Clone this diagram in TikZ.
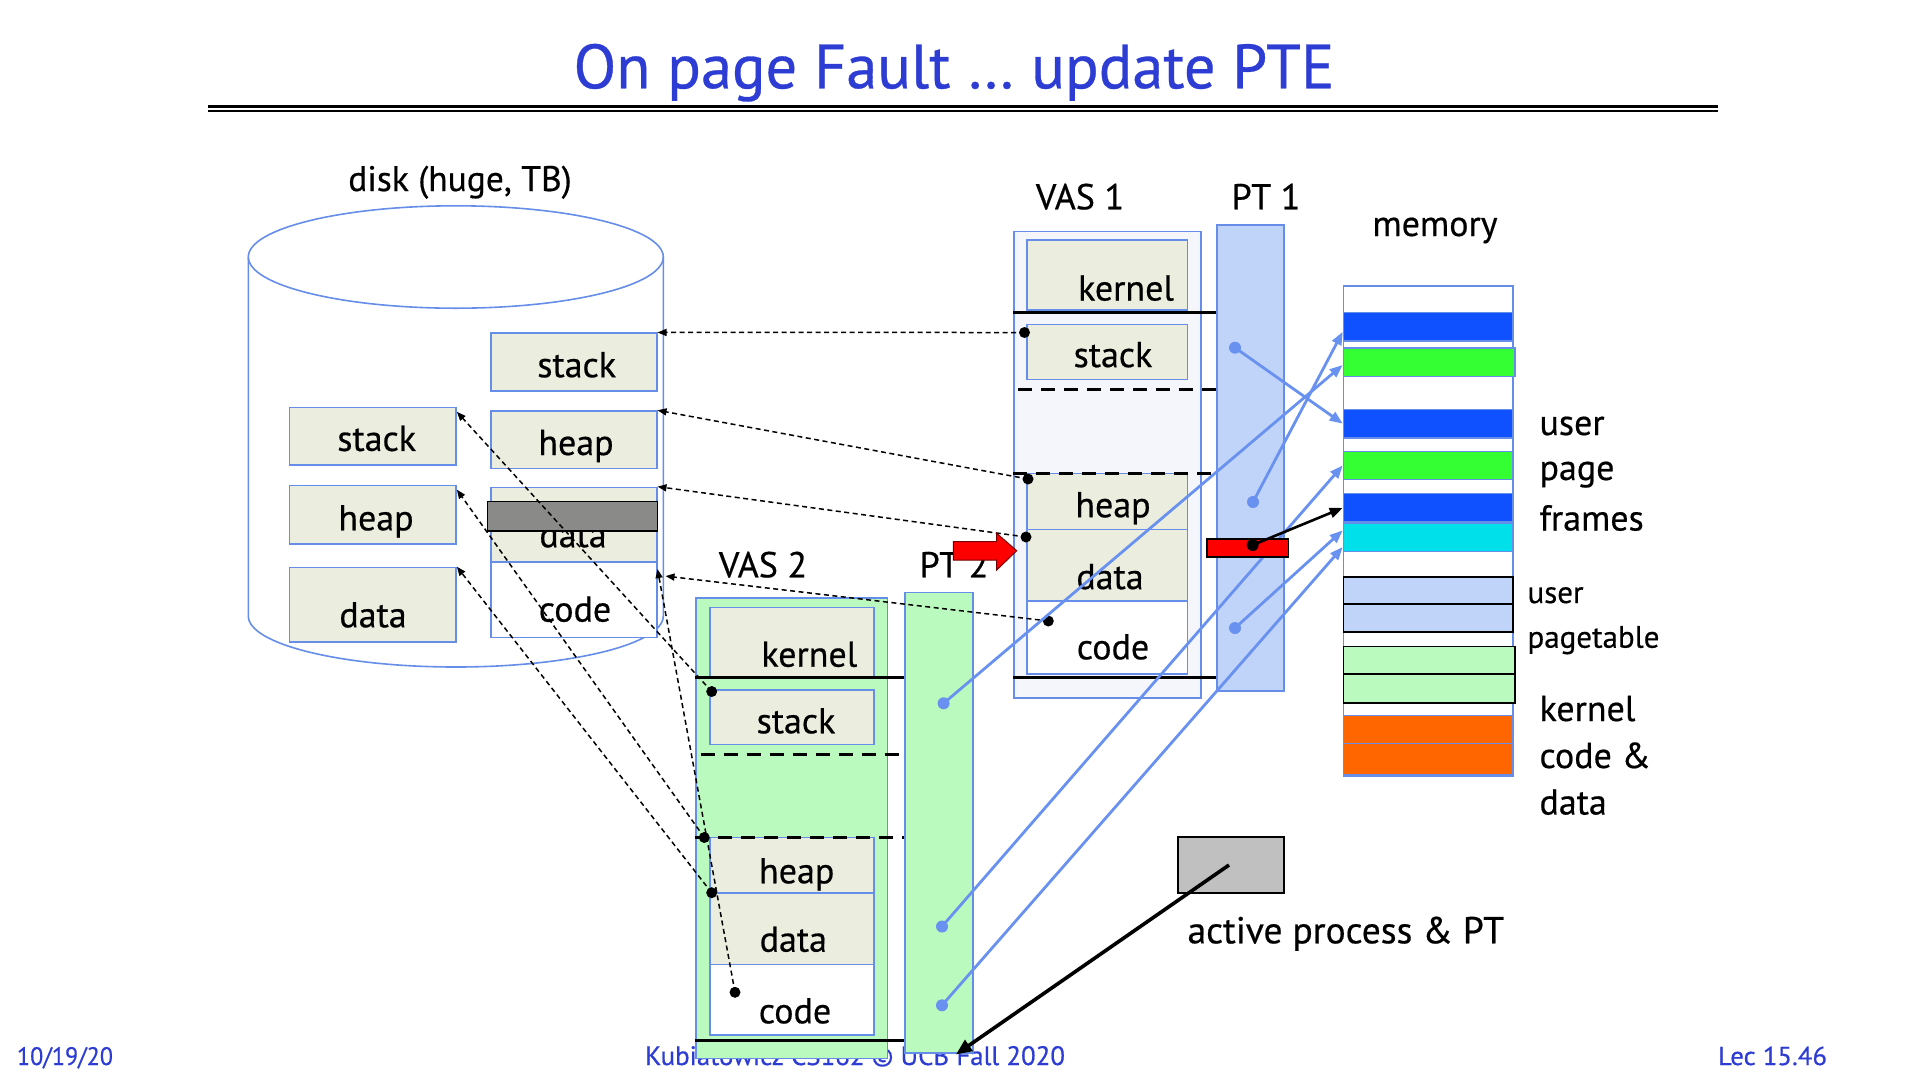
\documentclass[tikz,border=0pt]{standalone}
\usepackage{fontspec}
\setmainfont{PT Sans}[FakeBold=0.5]
\usetikzlibrary{arrows.meta,calc}

\definecolor{edgeblue}{RGB}{102,142,232}
\definecolor{linkblue}{RGB}{105,145,240}
\definecolor{segfill}{RGB}{235,237,223}
\definecolor{vasonefill}{RGB}{244,246,252}
\definecolor{ptonefill}{RGB}{192,211,248}
\definecolor{greenfill}{RGB}{187,250,190}
\definecolor{frameblue}{RGB}{15,80,255}
\definecolor{framegreen}{RGB}{51,255,51}
\definecolor{framecyan}{RGB}{0,224,234}
\definecolor{frameorange}{RGB}{255,102,0}
\definecolor{titleblue}{RGB}{45,60,210}
\definecolor{faultred}{RGB}{255,0,0}
\definecolor{activegray}{RGB}{192,192,192}
\definecolor{swapgray}{RGB}{138,138,136}

\newcommand{\fsz}[1]{\fontsize{#1}{#1}\selectfont}

\begin{document}
\begin{tikzpicture}[x=1pt,y=-1pt,
  wh/.style 2 args={minimum width=#1, minimum height=#2},
  seg/.style={draw=edgeblue, line width=1.6pt, fill=segfill, inner sep=0pt},
  segw/.style={seg, fill=white},
  outer/.style={draw=edgeblue, line width=1.6pt, inner sep=0pt},
  bar/.style={draw=edgeblue, line width=1.2pt, inner sep=0pt, fill=#1},
  pbar/.style={draw=black, line width=1.6pt, inner sep=0pt, fill=#1},
  txt/.style={inner sep=0pt, anchor=base, font=\fsz{36}},
  txtl/.style={inner sep=0pt, anchor=base west, font=\fsz{36}},
  foot/.style={inner sep=0pt, anchor=base, text=titleblue},
  solidsep/.style={line width=3pt},
  dashsep/.style={line width=3pt, dash pattern=on 14pt off 9pt},
  swaplink/.style={line width=1.5pt, dash pattern=on 5pt off 3.5pt, -{Triangle[length=9pt,width=7pt]}},
  maplink/.style={linkblue, line width=2.8pt, -{Triangle[length=13pt,width=10pt]}},
  vdot/.style={fill=black},
  pdot/.style={fill=linkblue}
]
\fill[white] (0,0) rectangle (1920,1080);
\useasboundingbox (0,0) rectangle (1920,1080);

% ---------- footer (partly hidden by the VAS 2 column) ----------
\node[foot] (date) at (65,1065) {\resizebox{96pt}{18pt}{10/19/20}};
\node[foot] (credit) at (855,1065) {\resizebox{420pt}{19pt}{Kubiatowicz CS162 © UCB Fall 2020}};
\node[foot] (lecno) at (1772.5,1065) {\resizebox{109pt}{18.5pt}{Lec 15.46}};

% ---------- title ----------
\node[inner sep=0pt, anchor=base, text=titleblue, font=\fsz{62.5}] (title) at (954,88.3) {On page Fault … update PTE};
\draw[line width=3pt] (208,106) -- (1718,106);
\draw[line width=2pt] (208,110.5) -- (1718,110.5);

% ---------- disk ----------
\node[txt, font=\fsz{35.5}] (disklbl) at (460,191) {disk (huge, TB)};
\draw[edgeblue, line width=1.6pt] (455.8,257) ellipse [x radius=207.5, y radius=51.2];
\draw[edgeblue, line width=1.6pt] (248.3,257) -- (248.3,616)
  arc[start angle=180, end angle=0, x radius=207.5, y radius=51] -- (663.3,257);

\node[seg, wh={166pt}{57.5pt}] (dRstack) at (573.7,362) {};
\node[seg, wh={166pt}{57.5pt}] (dRheap) at (573.7,439.8) {};
\node[seg, wh={166pt}{74.4pt}] (dRdata) at (573.7,524.6) {};
\node[segw, wh={166pt}{75.7pt}] (dRcode) at (573.7,599.7) {};
\node[seg, wh={166.7pt}{57.4pt}] (dLstack) at (372.7,436.3) {};
\node[seg, wh={166.7pt}{58.4pt}] (dLheap) at (372.7,514.6) {};
\node[seg, wh={166.7pt}{74.4pt}] (dLdata) at (372.7,604.7) {};

\node[txt] (tRstack) at (576.7,377.2) {stack};
\node[txt] (tRheap) at (576,455) {heap};
\node[txt] (tRdata) at (573,547.2) {data};
\node[txt] (tRcode) at (575,621.6) {code};
\node[txt] (tLstack) at (376.7,450.9) {stack};
\node[txt] (tLheap) at (376,530.3) {heap};
\node[txt] (tLdata) at (373,627.3) {data};
\node[draw=black, line width=1.6pt, fill=swapgray, inner sep=0pt, wh={170pt}{29.4pt}] (swapped) at (572.3,516.3) {};

% ---------- VAS 1 and PT 1 ----------
\node[txt] (vasonelbl) at (1080,209.3) {VAS 1};
\node[txt] (ptonelbl) at (1266,209.3) {PT 1};
\node[outer, fill=vasonefill, wh={187pt}{466.5pt}] (vasone) at (1107.5,464.65) {};
\node[outer, fill=ptonefill, wh={67.3pt}{465.9pt}] (ptone) at (1250.35,457.95) {};
\node[seg, wh={160.6pt}{70pt}] (aKernel) at (1107,275.2) {};
\node[seg, wh={160.6pt}{55.1pt}] (aStack) at (1107,351.85) {};
\node[seg, wh={160.6pt}{56.1pt}] (aHeap) at (1107,501.45) {};
\node[seg, wh={160.6pt}{71.2pt}] (aData) at (1107,565.1) {};
\node[segw, wh={160.6pt}{73.3pt}] (aCode) at (1107,637.35) {};
\draw[solidsep] (vasone.west |- 0,312.1) -- (ptone.west |- 0,312.1);
\draw[solidsep] (vasone.west |- 0,677.5) -- (ptone.west |- 0,677.5);
\draw[dashsep] (1018,389.2) -- (ptone.west |- 0,389.2);
\draw[dashsep] (vasone.west |- 0,473.4) -- (ptone.west |- 0,473.4);
\node[txt] (taKernel) at (1126,300.5) {kernel};
\node[txt] (taStack) at (1113,367.1) {stack};
\node[txt] (taHeap) at (1113,517.2) {heap};
\node[txt] (taData) at (1110,589.1) {data};
\node[txt] (taCode) at (1113,659.3) {code};

% ---------- VAS 2 and PT 2 ----------
\node[txt] (vastwolbl) at (763,577.3) {VAS 2};
\node[txt] (pttwolbl) at (954,577.3) {PT 2};
\node[outer, fill=greenfill, wh={191.3pt}{460.6pt}] (vastwo) at (791.65,828) {};
\node[outer, fill=greenfill, wh={67.7pt}{460.4pt}] (pttwo) at (938.85,822.5) {};
\node[seg, wh={164pt}{69pt}] (bKernel) at (792,641.8) {};
\node[seg, wh={164pt}{54.3pt}] (bStack) at (792,717.15) {};
\node[seg, wh={164pt}{55.4pt}] (bHeap) at (792,865) {};
\node[seg, wh={164pt}{71.6pt}] (bData) at (792,928.5) {};
\node[segw, wh={164pt}{70.7pt}] (bCode) at (792,999.65) {};
\draw[solidsep] (vastwo.west |- 0,677.7) -- (pttwo.west |- 0,677.7);
\draw[solidsep] (vastwo.west |- 0,1040.7) -- (pttwo.west |- 0,1040.7);
\draw[dashsep] (700.7,754.3) -- (pttwo.west |- 0,754.3);
\draw[dashsep] (vastwo.west |- 0,837.3) -- (pttwo.west |- 0,837.3);
\node[txt] (tbKernel) at (809.3,666.7) {kernel};
\node[txt] (tbStack) at (796,733.3) {stack};
\node[txt] (tbHeap) at (796.7,883.3) {heap};
\node[txt] (tbData) at (793.3,951.7) {data};
\node[txt] (tbCode) at (795,1023.3) {code};

% ---------- physical memory ----------
\node[txt] (memlbl) at (1435,236) {memory};
\node[outer, fill=white, wh={169.4pt}{490.1pt}] (mem) at (1428,530.75) {};
\node[bar=frameblue, wh={169.4pt}{28.2pt}] (mBa) at (1428,326.8) {};
\node[bar=framegreen, wh={171.7pt}{28.2pt}] (mGa) at (1429.15,362) {};
\node[bar=frameblue, wh={169.4pt}{28.6pt}] (mBb) at (1428,423.6) {};
\node[bar=framegreen, wh={169.4pt}{27.7pt}] (mGb) at (1428,465.45) {};
\node[bar=frameblue, wh={169.4pt}{28.2pt}] (mBc) at (1428,507.9) {};
\node[bar=framecyan, wh={169.4pt}{28.2pt}] (mC) at (1428,537.4) {};
\node[pbar=ptonefill, wh={169.4pt}{26.9pt}] (mPa) at (1428,590.25) {};
\node[pbar=ptonefill, wh={169.4pt}{28.2pt}] (mPb) at (1428,617.8) {};
\node[pbar=greenfill, wh={171.7pt}{27.8pt}] (mKa) at (1429.15,660.3) {};
\node[pbar=greenfill, wh={171.7pt}{29pt}] (mKb) at (1429.15,688.7) {};
\node[bar=frameorange, wh={169.4pt}{28.1pt}] (mOa) at (1428,729.75) {};
\node[bar=frameorange, wh={169.4pt}{31.2pt}] (mOb) at (1428,759.4) {};

\node[txtl] (lUser) at (1539.3,435) {user};
\node[txtl] (lPage) at (1539.3,480) {page};
\node[txtl] (lFrames) at (1539.3,530.5) {frames};
\node[txtl, font=\fsz{31}] (lPtUser) at (1527.3,603) {user};
\node[txtl, font=\fsz{31}] (lPagetable) at (1527.3,647.7) {pagetable};
\node[txtl] (lKernel) at (1539.3,721) {kernel};
\node[txtl] (lCode) at (1539.3,768) {code \&};
\node[txtl] (lData) at (1539.3,814.5) {data};

% ---------- virtual segments backed by the disk ----------
\coordinate (aS) at (1024.5,332.5);
\coordinate (aH) at (1028,479);
\coordinate (aD) at (1026,537);
\coordinate (aC) at (1048.3,621);
\coordinate (bS) at (711.7,691.5);
\coordinate (bH) at (704.3,837.5);
\coordinate (bD) at (711.7,892.7);
\coordinate (bC) at (735,992.3);
\draw[swaplink] (aS) -- (dRstack.north east);
\draw[swaplink] (aH) -- (dRheap.north east);
\draw[swaplink] (aD) -- (dRdata.north east);
\draw[swaplink] (aC) -- ($(dRcode.north east)+(8,15)$);
\draw[swaplink] (bS) -- ($(dLstack.north east)+(0,5)$);
\draw[swaplink] (bH) -- ($(dLheap.north east)+(0,5)$);
\draw[swaplink] (bD) -- (dLdata.north east);
\draw[swaplink] (bC) -- ($(dRcode.north east)+(0,8)$);
\foreach \c in {aS,aH,aD,aC,bS,bH,bD,bC} \fill[vdot] (\c) circle[radius=5.5pt];

% ---------- page table entries mapped to frames ----------
\coordinate (pa) at (1235,347.7);
\coordinate (pb) at (1253,502);
\coordinate (pc) at (1235,628);
\coordinate (qa) at (943.6,703.3);
\coordinate (qb) at (942,926.5);
\coordinate (qc) at (942,1005.3);
\draw[maplink] (pa) -- (mBb.west);
\draw[maplink] (pb) -- ($(mBa.west)+(0,5)$);
\draw[maplink] (pc) -- ($(mC.west)+(0,-7)$);
\draw[maplink] (qa) -- ($(mGa.west)+(0,3)$);
\draw[maplink] (qb) -- (mGb.west);
\draw[maplink] (qc) -- ($(mC.west)+(0,9.6)$);
\foreach \c in {pa,pb,pc,qa,qb,qc} \fill[pdot] (\c) circle[radius=6pt];

% ---------- the faulting entry, now updated ----------
\node[draw=black, line width=1.6pt, fill=faultred, inner sep=0pt, wh={81.6pt}{18pt}] (pte) at (1247.5,548) {};
\coordinate (pteDot) at (1252.7,545);
\draw[line width=2.6pt, -{Triangle[length=13pt,width=10pt]}] (pteDot) -- (mBc.west);
\fill[vdot] (pteDot) circle[radius=6pt];

\draw[fill=faultred, draw=black!55!red, line width=1pt]
  (953.3,541.7) -- (996.7,541.7) -- (996.7,533.3) -- (1016.7,550.7)
  -- (996.7,570) -- (996.7,560) -- (953.3,560) -- cycle;

% ---------- active process register ----------
\node[draw=black, line width=2pt, fill=activegray, inner sep=0pt, wh={106pt}{55.4pt}] (active) at (1231.3,865) {};
\coordinate (activeDot) at (1229,865);
\coordinate (ptBase) at ($(pttwo.south)+(17,1)$);
\draw[line width=3.6pt, -{Triangle[length=16pt,width=13pt]}] (activeDot) -- (ptBase);
\node[txt, font=\fsz{37.5}] (activelbl) at (1345.8,943.3) {active process \& PT};
\end{tikzpicture}
\end{document}
